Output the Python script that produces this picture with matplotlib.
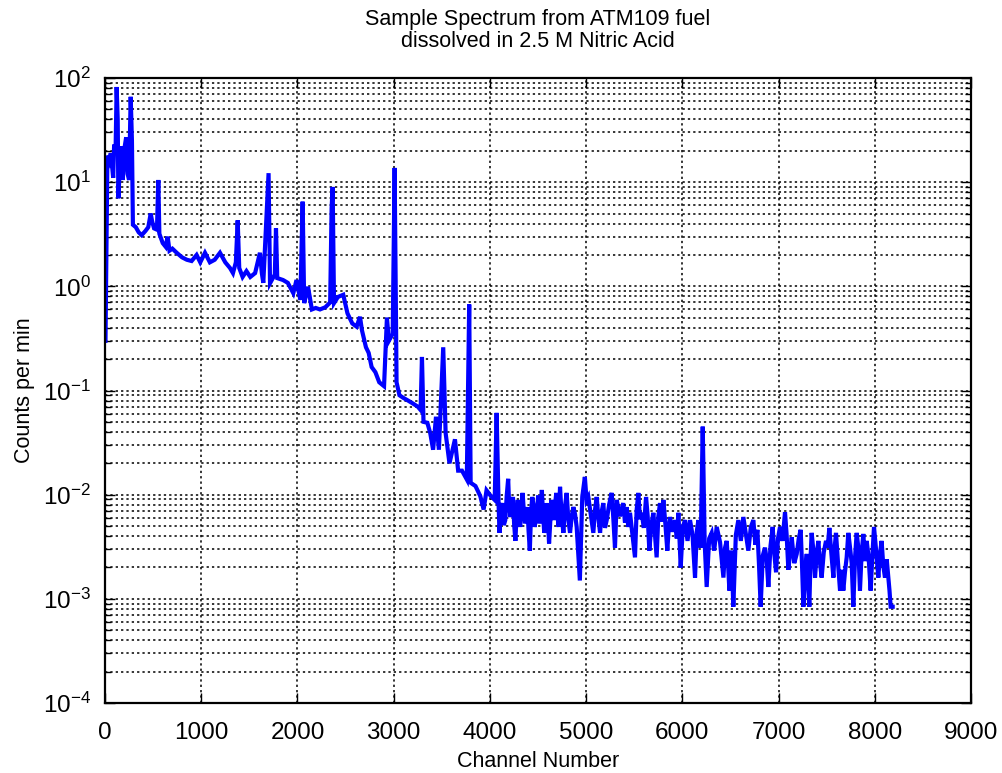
import numpy as np
import matplotlib
matplotlib.use("Agg")
import matplotlib.pyplot as plt
from matplotlib.ticker import LogLocator, FixedLocator, NullFormatter

plt.rcParams["font.family"] = ["Liberation Sans", "DejaVu Sans"]
plt.rcParams["mathtext.fontset"] = "custom"
plt.rcParams["mathtext.rm"] = "Liberation Sans"
plt.rcParams["mathtext.it"] = "Liberation Sans"

# channel numbers and counts per min
channel = [
    5, 25, 45, 60, 70, 85, 95, 110, 121, 132, 139, 150, 165, 175, 185, 205, 220, 235,
    250, 267, 280, 290,
    320, 350, 381, 420, 450, 475, 490, 510, 540, 554, 565, 600, 630, 651, 670, 700,
    745, 800, 850, 900, 952, 990, 1039, 1090, 1140, 1195, 1250, 1299, 1330, 1360,
    1379, 1395, 1430, 1470, 1510, 1560, 1610, 1630, 1645, 1700, 1715, 1765, 1777,
    1790, 1850, 1900, 1957, 1990, 2030, 2054, 2070, 2110, 2150, 2190, 2234, 2290,
    2340, 2355, 2366, 2380, 2420, 2476, 2520, 2570, 2615, 2650, 2670, 2712, 2740,
    2771, 2810, 2850, 2900, 2930, 2950, 2990, 3010, 3030, 3060, 3100, 3150, 3200,
    3250, 3280, 3294, 3310, 3350, 3380, 3410, 3440, 3470, 3515, 3540, 3580, 3637,
    3670, 3710, 3760, 3785, 3800, 3850, 3900, 3935, 3965, 4010, 4050, 4070, 4090,
    4100, 4115, 4130, 4145, 4160, 4175, 4190, 4200, 4215, 4228, 4240, 4252, 4265,
    4278, 4290, 4302, 4315, 4328, 4340, 4352, 4365, 4378, 4390, 4402, 4415, 4428,
    4440, 4452, 4465, 4478, 4490, 4502, 4515, 4528, 4540, 4552, 4565, 4578, 4590,
    4602, 4615, 4628, 4640, 4652, 4665, 4678, 4690, 4702, 4715, 4729, 4746, 4764,
    4781, 4798, 4815, 4833, 4850, 4868, 4885, 4902, 4918, 4935, 4960, 4987, 5005,
    5023, 5050, 5075, 5092, 5110, 5127, 5145, 5162, 5179, 5196, 5214, 5240, 5266,
    5283, 5300, 5318, 5352, 5386, 5404, 5421, 5438, 5456, 5482, 5508, 5525, 5543,
    5560, 5577, 5600, 5623, 5640, 5657, 5678, 5699, 5716, 5733, 5750, 5768, 5785,
    5803, 5824, 5844, 5858, 5872, 5898, 5924, 5942, 5959, 5983, 6005, 6028, 6054,
    6080, 6106, 6132, 6150, 6167, 6190, 6212, 6232, 6253, 6279, 6305, 6331, 6357,
    6392, 6427, 6444, 6461, 6475, 6489, 6510, 6530, 6556, 6582, 6608, 6634, 6660,
    6686, 6712, 6738, 6759, 6780, 6797, 6814, 6836, 6859, 6876, 6894, 6916, 6939,
    6956, 6974, 6994, 7015, 7041, 7067, 7084, 7102, 7120, 7137, 7163, 7189, 7210,
    7230, 7244, 7258, 7276, 7293, 7306, 7320, 7332, 7344, 7362, 7379, 7396, 7414,
    7431, 7448, 7470, 7493, 7510, 7528, 7549, 7570, 7583, 7597, 7618, 7639, 7656,
    7673, 7690, 7708, 7725, 7743, 7760, 7777, 7795, 7812, 7829, 7846, 7863, 7881,
    7898, 7916, 7936, 7957, 7975, 7992, 8014, 8037, 8054, 8071, 8088, 8106, 8124,
    8141, 8153, 8165, 8186,
]
counts = [
    0.3, 18, 16, 19, 15.6, 11, 23, 20, 82, 40, 7.0, 12, 22, 14, 10.5, 22, 27, 12,
    10.5, 66, 25, 3.9,
    3.7, 3.3, 3.1, 3.4, 3.7, 5.0, 4.2, 3.6, 3.5, 10.5, 3.2, 2.6, 2.4, 3.0, 2.2, 2.3,
    2.1, 1.9, 1.8, 1.75, 2.0, 1.7, 2.1, 1.7, 1.8, 2.1, 1.7, 1.5, 1.34, 1.7,
    4.3, 1.5, 1.23, 1.4, 1.23, 1.34, 2.1, 1.34, 1.08, 12.2, 1.07, 1.3, 3.6,
    1.2, 1.15, 1.08, 0.86, 1.15, 0.74, 6.5, 0.69, 0.99, 0.6, 0.62, 0.6, 0.63,
    0.7, 5.6, 9.0, 0.69, 0.79, 0.83, 0.55, 0.44, 0.41, 0.51, 0.38, 0.26, 0.23,
    0.168, 0.15, 0.12, 0.11, 0.5, 0.3, 0.35, 13.7, 0.12, 0.09, 0.085, 0.08, 0.075,
    0.07, 0.065, 0.21, 0.05, 0.049, 0.039, 0.027, 0.056, 0.027, 0.26, 0.039, 0.02, 0.034,
    0.017, 0.017, 0.014, 0.67, 0.013, 0.0121, 0.0097, 0.0072, 0.011, 0.0097, 0.0089, 0.061, 0.0083,
    0.0043, 0.0072, 0.0083, 0.0051, 0.0057, 0.0098, 0.0142, 0.0078, 0.0061, 0.0082, 0.0095, 0.0052, 0.0036,
    0.0066, 0.0089, 0.0062, 0.0049, 0.0077, 0.0104, 0.0071, 0.0053, 0.0059, 0.0076, 0.0045, 0.0029, 0.0068,
    0.0095, 0.0081, 0.0049, 0.0058, 0.0071, 0.0098, 0.0053, 0.0072, 0.0111, 0.0066, 0.0043, 0.0052, 0.0083,
    0.0061, 0.0034, 0.0055, 0.0089, 0.0074, 0.0057, 0.0081, 0.0104, 0.0063, 0.0049, 0.0119, 0.0062, 0.0043,
    0.0078, 0.0104, 0.0058, 0.0043, 0.0062, 0.0076, 0.0065, 0.0049, 0.0028, 0.0015, 0.0095, 0.0148, 0.0088,
    0.0095, 0.0063, 0.0043, 0.0071, 0.0095, 0.0061, 0.0043, 0.0069, 0.0083, 0.0048, 0.0057, 0.0081, 0.0104,
    0.0059, 0.0031, 0.0089, 0.0062, 0.0083, 0.0054, 0.0076, 0.0049, 0.0067, 0.0041, 0.0025, 0.0071, 0.0104,
    0.0058, 0.0067, 0.0048, 0.0095, 0.0062, 0.0029, 0.0051, 0.0067, 0.0041, 0.0025, 0.0061, 0.0083, 0.0055,
    0.0089, 0.0052, 0.0029, 0.0047, 0.0061, 0.0044, 0.0057, 0.0038, 0.0067, 0.0020, 0.0049, 0.0057, 0.0036,
    0.0057, 0.0041, 0.0016, 0.0044, 0.0057, 0.0031, 0.045, 0.0035, 0.0013, 0.0038, 0.0043, 0.0029, 0.0049,
    0.0035, 0.0016, 0.0031, 0.0036, 0.0022, 0.0012, 0.0029, 0.00084, 0.0041, 0.0057, 0.0036, 0.0061, 0.0042,
    0.0029, 0.0049, 0.0057, 0.0033, 0.0046, 0.0021, 0.00084, 0.0026, 0.0031, 0.0024, 0.0013, 0.0032, 0.0049,
    0.0027, 0.0018, 0.0038, 0.0049, 0.0036, 0.0068, 0.0041, 0.0019, 0.0028, 0.0039, 0.0022, 0.0027, 0.0038,
    0.0046, 0.0021, 0.00084, 0.0019, 0.0027, 0.0014, 0.00084, 0.0024, 0.0043, 0.0029, 0.0016, 0.0027, 0.0036,
    0.0022, 0.0016, 0.0028, 0.0036, 0.0031, 0.0048, 0.0027, 0.0016, 0.0031, 0.0043, 0.0022, 0.0012, 0.0019,
    0.0012, 0.0018, 0.0025, 0.0043, 0.0031, 0.0022, 0.00084, 0.0025, 0.0043, 0.0031, 0.0012, 0.0027, 0.0042,
    0.0023, 0.0036, 0.0025, 0.0012, 0.0026, 0.0049, 0.0029, 0.0016, 0.0027, 0.0036, 0.0021, 0.0016, 0.0024,
    0.0016, 0.0012, 0.00084, 0.00084,
]

x_ticks = [0, 1000, 2000, 3000, 4000, 5000, 6000, 7000, 8000, 9000]

fig = plt.figure(figsize=(10.03, 7.73), dpi=100)
ax = fig.add_axes([105 / 1003, 70 / 773, 866 / 1003, 625 / 773])

ax.semilogy(channel, counts, color="#0000ff", lw=3.0, solid_joinstyle="miter")

ax.set_xlim(0, 9000)
ax.set_ylim(1e-4, 1e2)
ax.xaxis.set_major_locator(FixedLocator(x_ticks))
ax.yaxis.set_major_locator(LogLocator(base=10, numticks=10))
ax.yaxis.set_minor_locator(LogLocator(base=10, subs=np.arange(2, 10), numticks=20))
ax.yaxis.set_minor_formatter(NullFormatter())

grid_style = dict(color="black", linestyle=(0, (1.5, 2)), linewidth=1.1)
ax.grid(True, which="major", axis="both", **grid_style)
ax.grid(True, which="minor", axis="y", **grid_style)

ax.tick_params(which="both", direction="in", top=True, right=True, labelsize=17.5)
ax.tick_params(which="major", length=7, width=1)
ax.tick_params(which="minor", length=4, width=1)
ax.tick_params(axis="x", which="major", pad=14)
ax.tick_params(axis="y", which="major", pad=10)
for s in ax.spines.values():
    s.set_linewidth(1.6)

ax.set_title("Sample Spectrum from ATM109 fuel\ndissolved in 2.5 M Nitric Acid",
             fontsize=15.5, pad=22, linespacing=1.1)
ax.set_xlabel("Channel Number", fontsize=15.5, labelpad=5)
ax.set_ylabel("Counts per min", fontsize=15.5, labelpad=6)

fig.savefig("out.png", dpi=100)
